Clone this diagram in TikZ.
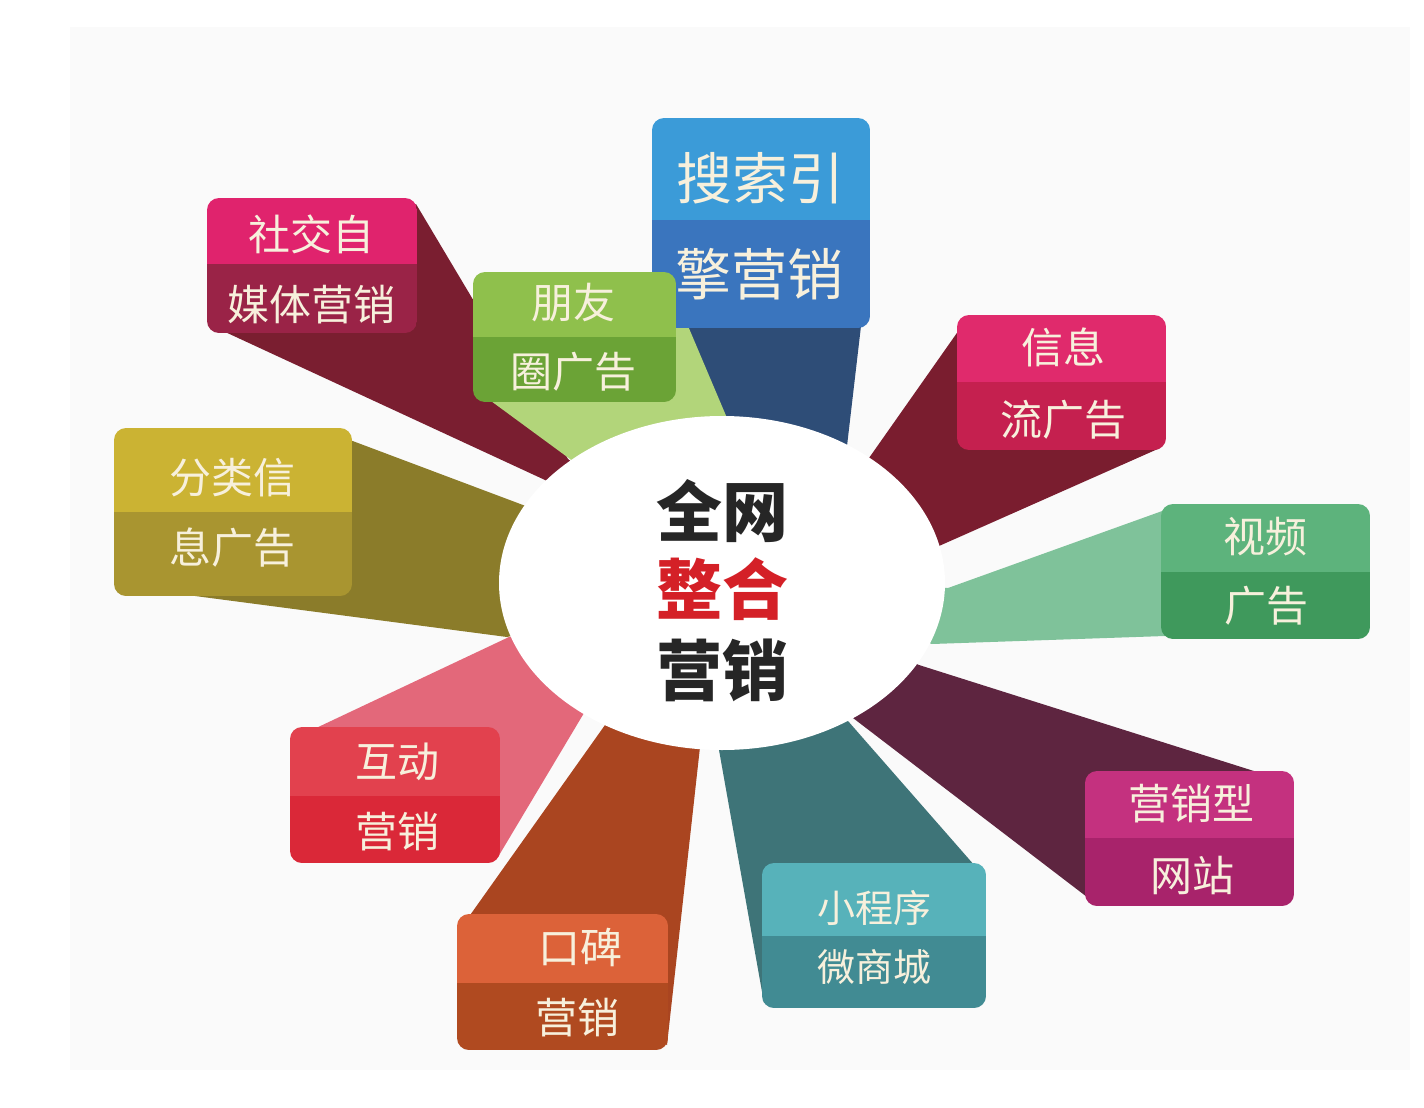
\documentclass[tikz,border=0pt]{standalone}
\usepackage{fontspec}
\newfontfamily\cjk{Noto Sans CJK SC}
\definecolor{bgc}{HTML}{FAFAFA}
\definecolor{txtc}{HTML}{F7F0DC}
\definecolor{redc}{HTML}{D42027}
\definecolor{socU}{HTML}{E0236D}\definecolor{socL}{HTML}{9A2347}\definecolor{socS}{HTML}{7A1E30}
\definecolor{friU}{HTML}{8FC04C}\definecolor{friL}{HTML}{6BA336}\definecolor{friS}{HTML}{B2D57A}
\definecolor{seaU}{HTML}{3B9BD8}\definecolor{seaL}{HTML}{3A75BE}\definecolor{seaS}{HTML}{2E4D77}
\definecolor{infU}{HTML}{E02A6C}\definecolor{infL}{HTML}{C5204F}\definecolor{infS}{HTML}{7A1D2F}
\definecolor{vidU}{HTML}{5DB37C}\definecolor{vidL}{HTML}{3F995C}\definecolor{vidS}{HTML}{7FC29A}
\definecolor{webU}{HTML}{C4317F}\definecolor{webL}{HTML}{A8236B}\definecolor{webS}{HTML}{5E2540}
\definecolor{minU}{HTML}{57B2BA}\definecolor{minL}{HTML}{418B93}\definecolor{minS}{HTML}{3E7478}
\definecolor{womU}{HTML}{DC6239}\definecolor{womL}{HTML}{B04A20}\definecolor{womS}{HTML}{AA4520}
\definecolor{intU}{HTML}{E2414E}\definecolor{intL}{HTML}{DA2838}\definecolor{intS}{HTML}{E3687A}
\definecolor{claU}{HTML}{CBB333}\definecolor{claL}{HTML}{A99530}\definecolor{claS}{HTML}{8B7C2A}
\newcommand\mkpanel[7]{%
  \begin{scope}
    \clip[rounded corners=12pt] (#1,#2) rectangle (#3,#4);
    \fill[#6] (#1,#2) rectangle (#3,#5);
    \fill[#7] (#1,#5) rectangle (#3,#4);
  \end{scope}}
\tikzset{
  lbl/.style={font=\cjk\fontsize{42}{42}\selectfont, text=txtc, inner sep=0pt},
  biglbl/.style={font=\cjk\fontsize{56}{56}\selectfont, text=txtc, inner sep=0pt},
  smlbl/.style={font=\cjk\fontsize{38}{38}\selectfont, text=txtc, inner sep=0pt},
  ctr/.style={font=\cjk\bfseries\fontsize{66}{66}\selectfont, inner sep=0pt}
}
\begin{document}
\begin{tikzpicture}[x=1pt,y=-1pt]
\useasboundingbox (0,0) rectangle (1424,1108);
\fill[white] (0,0) rectangle (1424,1108);
\fill[bgc] (70,27) rectangle (1410,1070);
\coordinate (C) at (722,583);
% shadows
\fill[socS] (416,204) -- (568,459) -- (C) -- (545,480) -- (223,331) -- cycle;
\fill[seaS] (678,326) -- (727,418) -- (C) -- (847,446) -- (861,326) -- cycle;
\fill[friS] (491,401) -- (570,459) -- (C) -- (727,418) -- (677,300) -- (600,300) -- cycle;
\fill[infS] (959,330) -- (869,458) -- (C) -- (939,546) -- (1160,448) -- cycle;
\fill[vidS] (1165,510) -- (948,588) -- (C) -- (932,644) -- (1165,636) -- cycle;
\fill[webS] (1257,772) -- (919,665) -- (C) -- (853,718) -- (1087,897) -- cycle;
\fill[minS] (975,866) -- (848,721) -- (C) -- (719,750) -- (764,1003) -- cycle;
\fill[womS] (468,918) -- (605,725) -- (C) -- (700,747) -- (667,1045) -- cycle;
\fill[intS] (314,729) -- (509,637) -- (C) -- (584,713) -- (498,857) -- cycle;
\fill[claS] (350,440) -- (523,505) -- (C) -- (507,637) -- (195,596) -- cycle;
% panels
\mkpanel{207}{198}{417}{333}{264}{socU}{socL}
\mkpanel{652}{118}{870}{328}{220}{seaU}{seaL}
\mkpanel{473}{272}{676}{402}{337}{friU}{friL}
\mkpanel{957}{315}{1166}{450}{382}{infU}{infL}
\mkpanel{1161}{504}{1370}{639}{572}{vidU}{vidL}
\mkpanel{1085}{771}{1294}{906}{838}{webU}{webL}
\mkpanel{762}{863}{986}{1008}{936}{minU}{minL}
\mkpanel{457}{914}{668}{1050}{983}{womU}{womL}
\mkpanel{290}{727}{500}{863}{796}{intU}{intL}
\mkpanel{114}{428}{352}{596}{512}{claU}{claL}
% centre
\fill[white] (C) ellipse [x radius=223pt, y radius=167pt];
% labels
\node[lbl] (soc1) at (311,234) {社交自};
\node[lbl] (soc2) at (311,305) {媒体营销};
\node[lbl] (fri1) at (573,303) {朋友};
\node[lbl] (fri2) at (573,372) {圈广告};
\node[biglbl] (sea1) at (760,178) {搜索引};
\node[biglbl] (sea2) at (759,274) {擎营销};
\node[lbl] (inf1) at (1063,347) {信息};
\node[lbl] (inf2) at (1063,420) {流广告};
\node[lbl] (vid1) at (1265,537) {视频};
\node[lbl] (vid2) at (1266,606) {广告};
\node[lbl] (web1) at (1191,804) {营销型};
\node[lbl] (web2) at (1192,875) {网站};
\node[smlbl] (min1) at (874,908) {小程序};
\node[smlbl] (min2) at (874,967) {微商城};
\node[lbl] (wom1) at (580,947) {口碑};
\node[lbl] (wom2) at (577,1018) {营销};
\node[lbl] (int1) at (397,762) {互动};
\node[lbl] (int2) at (397,832) {营销};
\node[lbl] (cla1) at (232,478) {分类信};
\node[lbl] (cla2) at (232,548) {息广告};
\node[ctr, text=black!85] (c1) at (722,511) {全网};
\node[ctr, text=redc] (c2) at (722,589) {整合};
\node[ctr, text=black!85] (c3) at (722,670) {营销};
\end{tikzpicture}
\end{document}
